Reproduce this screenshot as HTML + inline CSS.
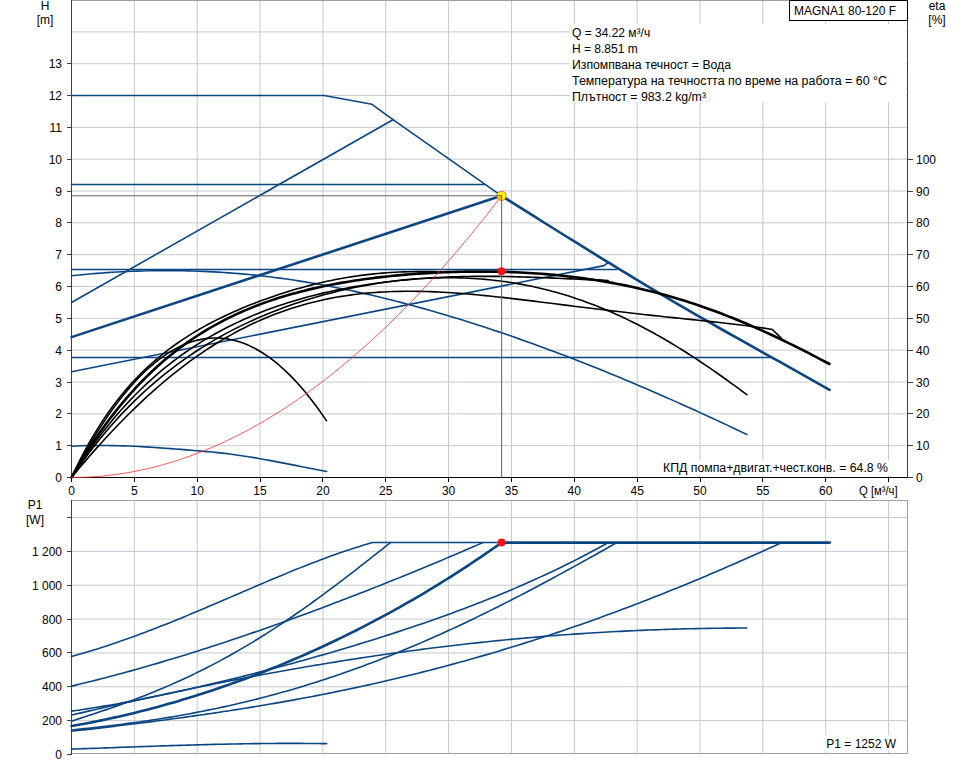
<!DOCTYPE html><html><head><meta charset="utf-8"><style>
html,body{margin:0;padding:0;background:#fff;width:968px;height:764px;overflow:hidden}
svg{display:block;font-family:"Liberation Sans",sans-serif;font-size:12px}
</style></head><body>
<svg width="968" height="764" viewBox="0 0 968 764">
<path d="M134.35,0 V477 M197.20,0 V477 M260.05,0 V477 M322.90,0 V477 M385.75,0 V477 M448.60,0 V477 M511.45,0 V477 M574.30,0 V477 M637.15,0 V477 M700.00,0 V477 M762.85,0 V477 M825.70,0 V477 M888.55,0 V477 M72,445.67 H907 M72,413.84 H907 M72,382.01 H907 M72,350.18 H907 M72,318.35 H907 M72,286.52 H907 M72,254.69 H907 M72,222.86 H907 M72,191.03 H907 M72,159.20 H907 M72,127.37 H907 M72,95.54 H907 M72,63.71 H907 M72,31.88 H907 M134.35,501 V754 M197.20,501 V754 M260.05,501 V754 M322.90,501 V754 M385.75,501 V754 M448.60,501 V754 M511.45,501 V754 M574.30,501 V754 M637.15,501 V754 M700.00,501 V754 M762.85,501 V754 M825.70,501 V754 M888.55,501 V754 M72,720.64 H907 M72,686.78 H907 M72,652.93 H907 M72,619.07 H907 M72,585.21 H907 M72,551.35 H907 M72,517.49 H907" stroke="#c6c9ce" stroke-width="1" fill="none"/>
<path d="M71.5,0 V482 M67,477.5 H907.5 M71.5,0.5 H907.5 M907.5,0 V477.5" stroke="#404040" stroke-width="1" fill="none" shape-rendering="crispEdges"/>
<path d="M71.5,0.5 H907.5" stroke="#a0a0a0" stroke-width="1" fill="none" shape-rendering="crispEdges"/>
<path d="M67,477.5 H912" stroke="#000" stroke-width="1.2" fill="none" shape-rendering="crispEdges"/>
<path d="M71.5,477 V482 M134.5,477 V482 M197.5,477 V482 M260.5,477 V482 M322.5,477 V482 M385.5,477 V482 M448.5,477 V482 M511.5,477 V482 M574.5,477 V482 M637.5,477 V482 M700.5,477 V482 M762.5,477 V482 M825.5,477 V482 M888.5,477 V482" stroke="#000" stroke-width="1" fill="none" shape-rendering="crispEdges"/>
<path d="M67,477.5 H71 M67,445.5 H71 M67,413.5 H71 M67,382.5 H71 M67,350.5 H71 M67,318.5 H71 M67,286.5 H71 M67,254.5 H71 M67,222.5 H71 M67,191.5 H71 M67,159.5 H71 M67,127.5 H71 M67,95.5 H71 M67,63.5 H71 M908,477.5 H913 M908,445.5 H913 M908,413.5 H913 M908,382.5 H913 M908,350.5 H913 M908,318.5 H913 M908,286.5 H913 M908,254.5 H913 M908,222.5 H913 M908,191.5 H913 M908,159.5 H913" stroke="#404040" stroke-width="1" fill="none" shape-rendering="crispEdges"/>
<path d="M71.5,500.5 H907.5 V753.5 H71.5 Z" stroke="#a0a0a0" stroke-width="1" fill="none" shape-rendering="crispEdges"/>
<path d="M71.5,500 V755" stroke="#404040" stroke-width="1" fill="none" shape-rendering="crispEdges"/>
<path d="M67,754.5 H71 M67,720.5 H71 M67,686.5 H71 M67,652.5 H71 M67,619.5 H71 M67,585.5 H71 M67,551.5 H71 M67,517.5 H71" stroke="#404040" stroke-width="1" fill="none" shape-rendering="crispEdges"/>
<g fill="#000"><text x="62" y="482.0" text-anchor="end" >0</text><text x="62" y="450.17" text-anchor="end" >1</text><text x="62" y="418.34000000000003" text-anchor="end" >2</text><text x="62" y="386.51" text-anchor="end" >3</text><text x="62" y="354.68" text-anchor="end" >4</text><text x="62" y="322.85" text-anchor="end" >5</text><text x="62" y="291.02" text-anchor="end" >6</text><text x="62" y="259.19" text-anchor="end" >7</text><text x="62" y="227.36" text-anchor="end" >8</text><text x="62" y="195.53000000000003" text-anchor="end" >9</text><text x="62" y="163.70000000000005" text-anchor="end" >10</text><text x="62" y="131.87" text-anchor="end" >11</text><text x="62" y="100.04000000000002" text-anchor="end" >12</text><text x="62" y="68.21000000000004" text-anchor="end" >13</text><text x="916" y="482.0" text-anchor="start" >0</text><text x="916" y="450.17" text-anchor="start" >10</text><text x="916" y="418.34000000000003" text-anchor="start" >20</text><text x="916" y="386.51" text-anchor="start" >30</text><text x="916" y="354.68" text-anchor="start" >40</text><text x="916" y="322.85" text-anchor="start" >50</text><text x="916" y="291.02" text-anchor="start" >60</text><text x="916" y="259.19" text-anchor="start" >70</text><text x="916" y="227.36000000000004" text-anchor="start" >80</text><text x="916" y="195.53000000000003" text-anchor="start" >90</text><text x="916" y="163.7" text-anchor="start" >100</text><text x="71.5" y="495" text-anchor="middle" >0</text><text x="134.35" y="495" text-anchor="middle" >5</text><text x="197.2" y="495" text-anchor="middle" >10</text><text x="260.05" y="495" text-anchor="middle" >15</text><text x="322.9" y="495" text-anchor="middle" >20</text><text x="385.75" y="495" text-anchor="middle" >25</text><text x="448.6" y="495" text-anchor="middle" >30</text><text x="511.45" y="495" text-anchor="middle" >35</text><text x="574.3" y="495" text-anchor="middle" >40</text><text x="637.15" y="495" text-anchor="middle" >45</text><text x="700.0" y="495" text-anchor="middle" >50</text><text x="762.85" y="495" text-anchor="middle" >55</text><text x="825.7" y="495" text-anchor="middle" >60</text><text x="62" y="759.0" text-anchor="end" >0</text><text x="62" y="725.142" text-anchor="end" >200</text><text x="62" y="691.284" text-anchor="end" >400</text><text x="62" y="657.426" text-anchor="end" >600</text><text x="62" y="623.568" text-anchor="end" >800</text><text x="62" y="589.71" text-anchor="end" >1 000</text><text x="62" y="555.852" text-anchor="end" >1 200</text><text x="45" y="10" text-anchor="middle" >H</text><text x="45" y="24" text-anchor="middle" >[m]</text><text x="937" y="10" text-anchor="middle" >eta</text><text x="937" y="24" text-anchor="middle" >[%]</text><text x="35" y="509" text-anchor="middle" >P1</text><text x="35" y="524" text-anchor="middle" >[W]</text></g>
<rect x="570" y="24" width="336" height="78" fill="#fff"/>
<rect x="789.5" y="0.5" width="118" height="20" fill="#fff" stroke="#000" stroke-width="1" shape-rendering="crispEdges"/>
<g fill="#000"><text x="794" y="15">MAGNA1 80-120 F</text><text x="572" y="37">Q = 34.22 м³/ч</text><text x="572" y="53">H = 8.851 m</text><text x="572" y="69" textLength="159" lengthAdjust="spacingAndGlyphs">Изпомпвана течност = Вода</text><text x="572" y="85" textLength="315" lengthAdjust="spacingAndGlyphs">Температура на течността по време на работа = 60 °C</text><text x="572" y="101" textLength="134" lengthAdjust="spacingAndGlyphs">Плътност = 983.2 kg/m³</text><rect x="660" y="460" width="230" height="15" fill="#fff"/><text x="663" y="472" textLength="225" lengthAdjust="spacingAndGlyphs">КПД помпа+двигат.+чест.конв. = 64.8 %</text><text x="859" y="495" textLength="38.6" lengthAdjust="spacingAndGlyphs">Q [м³/ч]</text><rect x="824" y="735" width="76" height="16" fill="#fff"/><text x="896" y="748" text-anchor="end">P1 = 1252 W</text></g>
<path d="M71.50,95.54 L324.16,95.54 L371.90,104.30 L393.00,119.70 L501.50,195.80" stroke="#0b4683" stroke-width="1.6" fill="none" stroke-linejoin="round" stroke-linecap="round"/><path d="M501.50,195.80 L509.91,201.10 L518.32,206.39 L526.73,211.68 L535.14,216.96 L543.55,222.23 L551.96,227.49 L560.37,232.75 L568.78,237.99 L577.19,243.21 L585.60,248.42 L594.01,253.61 L602.42,258.79 L610.83,263.94 L619.24,269.08 L627.65,274.19 L636.06,279.28 L644.47,284.34 L652.88,289.37 L661.29,294.38 L669.71,299.35 L678.12,304.29 L686.53,309.20 L694.94,314.08 L703.35,318.92 L711.76,323.73 L720.17,328.50 L728.58,333.25 L736.99,337.98 L745.40,342.69 L753.81,347.39 L762.22,352.08 L770.63,356.77 L779.04,361.46 L787.45,366.16 L795.86,370.87 L804.27,375.59 L812.68,380.34 L821.09,385.10 L829.50,389.90" stroke="#0b4683" stroke-width="2.6" fill="none" stroke-linejoin="round" stroke-linecap="round"/><path d="M71.5,184.5 H484.5" stroke="#0b4683" stroke-width="1.6" fill="none" stroke-linejoin="round" stroke-linecap="round"/><path d="M71.5,269.5 H616.6" stroke="#0b4683" stroke-width="1.6" fill="none" stroke-linejoin="round" stroke-linecap="round"/><path d="M71.5,357.5 H770" stroke="#0b4683" stroke-width="1.6" fill="none" stroke-linejoin="round" stroke-linecap="round"/><path d="M71.50,302.44 L393.00,119.70" stroke="#0b4683" stroke-width="1.6" fill="none" stroke-linejoin="round" stroke-linecap="round"/><path d="M71.50,337.13 L501.50,195.80" stroke="#0b4683" stroke-width="2.6" fill="none" stroke-linejoin="round" stroke-linecap="round"/><path d="M71.50,371.82 L604.00,265.60 L607.50,263.00" stroke="#0b4683" stroke-width="1.6" fill="none" stroke-linejoin="round" stroke-linecap="round"/><path d="M71.50,275.70 L76.58,275.18 L81.66,274.68 L86.73,274.22 L91.81,273.78 L96.89,273.37 L101.97,272.99 L107.05,272.63 L112.12,272.31 L117.20,272.01 L122.28,271.74 L127.36,271.50 L132.44,271.28 L137.52,271.10 L142.59,270.94 L147.67,270.82 L152.75,270.72 L157.83,270.65 L162.91,270.61 L167.98,270.60 L173.06,270.63 L178.14,270.68 L183.22,270.76 L188.30,270.87 L193.37,271.01 L198.45,271.18 L203.53,271.38 L208.61,271.61 L213.69,271.87 L218.76,272.16 L223.84,272.49 L228.92,272.84 L234.00,273.23 L239.08,273.64 L244.16,274.09 L249.23,274.57 L254.31,275.08 L259.39,275.62 L264.47,276.20 L269.55,276.81 L274.62,277.44 L279.70,278.11 L284.78,278.81 L289.86,279.54 L294.94,280.30 L300.01,281.09 L305.09,281.91 L310.17,282.76 L315.25,283.63 L320.33,284.54 L325.40,285.47 L330.48,286.43 L335.56,287.42 L340.64,288.44 L345.72,289.48 L350.80,290.55 L355.87,291.64 L360.95,292.76 L366.03,293.91 L371.11,295.08 L376.19,296.28 L381.26,297.50 L386.34,298.74 L391.42,300.01 L396.50,301.31 L401.58,302.62 L406.65,303.96 L411.73,305.32 L416.81,306.71 L421.89,308.11 L426.97,309.54 L432.04,310.99 L437.12,312.46 L442.20,313.95 L447.28,315.46 L452.36,316.99 L457.43,318.54 L462.51,320.11 L467.59,321.70 L472.67,323.31 L477.75,324.94 L482.83,326.58 L487.90,328.25 L492.98,329.93 L498.06,331.63 L503.14,333.35 L508.22,335.09 L513.29,336.85 L518.37,338.62 L523.45,340.41 L528.53,342.22 L533.61,344.04 L538.68,345.89 L543.76,347.75 L548.84,349.63 L553.92,351.52 L559.00,353.43 L564.07,355.36 L569.15,357.30 L574.23,359.26 L579.31,361.24 L584.39,363.23 L589.47,365.23 L594.54,367.26 L599.62,369.30 L604.70,371.35 L609.78,373.42 L614.86,375.50 L619.93,377.60 L625.01,379.72 L630.09,381.85 L635.17,383.99 L640.25,386.15 L645.32,388.32 L650.40,390.51 L655.48,392.71 L660.56,394.92 L665.64,397.15 L670.71,399.39 L675.79,401.64 L680.87,403.91 L685.95,406.19 L691.03,408.48 L696.11,410.79 L701.18,413.11 L706.26,415.44 L711.34,417.79 L716.42,420.14 L721.50,422.51 L726.57,424.89 L731.65,427.28 L736.73,429.69 L741.81,432.10 L746.89,434.53" stroke="#0b4683" stroke-width="1.6" fill="none" stroke-linejoin="round" stroke-linecap="round"/><path d="M71.50,446.31 L76.71,446.03 L81.92,445.82 L87.12,445.66 L92.33,445.55 L97.54,445.50 L102.75,445.49 L107.95,445.52 L113.16,445.60 L118.37,445.72 L123.58,445.87 L128.78,446.06 L133.99,446.29 L139.20,446.55 L144.41,446.83 L149.61,447.14 L154.82,447.47 L160.03,447.83 L165.24,448.20 L170.44,448.59 L175.65,449.00 L180.86,449.41 L186.07,449.84 L191.27,450.27 L196.48,450.70 L201.69,451.14 L206.90,451.59 L212.10,452.07 L217.31,452.59 L222.52,453.15 L227.73,453.78 L232.93,454.46 L238.14,455.19 L243.35,455.96 L248.56,456.78 L253.77,457.64 L258.97,458.53 L264.18,459.45 L269.39,460.40 L274.60,461.38 L279.80,462.37 L285.01,463.37 L290.22,464.39 L295.43,465.41 L300.63,466.44 L305.84,467.46 L311.05,468.48 L316.26,469.48 L321.46,470.48 L326.67,471.45" stroke="#0b4683" stroke-width="1.6" fill="none" stroke-linejoin="round" stroke-linecap="round"/><path d="M71.50,477.50 L75.76,468.51 L80.02,459.94 L84.28,451.78 L88.54,444.00 L92.79,436.60 L97.05,429.55 L101.31,422.82 L105.57,416.42 L109.83,410.32 L114.09,404.50 L118.35,398.95 L122.61,393.66 L126.87,388.61 L131.12,383.79 L135.38,379.19 L139.64,374.79 L143.90,370.58 L148.16,366.56 L152.42,362.72 L156.68,359.03 L160.94,355.50 L165.20,352.11 L169.45,348.86 L173.71,345.74 L177.97,342.73 L182.23,339.85 L186.49,337.06 L190.75,334.38 L195.01,331.80 L199.27,329.30 L203.52,326.89 L207.78,324.56 L212.04,322.31 L216.30,320.12 L220.56,318.01 L224.82,315.95 L229.08,313.96 L233.34,312.03 L237.60,310.15 L241.85,308.33 L246.11,306.56 L250.37,304.84 L254.63,303.16 L258.89,301.53 L263.15,299.95 L267.41,298.41 L271.67,296.92 L275.93,295.47 L280.18,294.06 L284.44,292.70 L288.70,291.37 L292.96,290.09 L297.22,288.85 L301.48,287.65 L305.74,286.49 L310.00,285.38 L314.26,284.30 L318.51,283.27 L322.77,282.28 L327.03,281.34 L331.29,280.44 L335.55,279.58 L339.81,278.77 L344.07,278.00 L348.33,277.28 L352.59,276.60 L356.84,275.97 L361.10,275.38 L365.36,274.84 L369.62,274.34 L373.88,273.89 L378.14,273.48 L382.40,273.11 L386.66,272.79 L390.91,272.50 L395.17,272.26 L399.43,272.06 L403.69,271.90 L407.95,271.77 L412.21,271.68 L416.47,271.62 L420.73,271.58 L424.99,271.58 L429.24,271.60 L433.50,271.64 L437.76,271.70 L442.02,271.77 L446.28,271.85 L450.54,271.94 L454.80,272.02 L459.06,272.10 L463.32,272.17 L467.57,272.22 L471.83,272.25 L476.09,272.25 L480.35,272.21 L484.61,272.12 L488.87,271.99 L493.13,271.79 L497.39,271.51 L501.65,271.16" stroke="#000" stroke-width="1.6" fill="none" stroke-linejoin="round" stroke-linecap="round"/><path d="M71.50,477.50 L75.73,470.16 L79.97,463.04 L84.20,456.14 L88.44,449.46 L92.67,442.99 L96.91,436.72 L101.14,430.66 L105.38,424.78 L109.61,419.09 L113.84,413.59 L118.08,408.26 L122.31,403.11 L126.55,398.13 L130.78,393.31 L135.02,388.65 L139.25,384.14 L143.49,379.78 L147.72,375.57 L151.96,371.50 L156.19,367.57 L160.42,363.77 L164.66,360.10 L168.89,356.56 L173.13,353.14 L177.36,349.84 L181.60,346.65 L185.83,343.57 L190.07,340.60 L194.30,337.73 L198.53,334.97 L202.77,332.30 L207.00,329.73 L211.24,327.25 L215.47,324.86 L219.71,322.55 L223.94,320.33 L228.18,318.19 L232.41,316.12 L236.64,314.13 L240.88,312.22 L245.11,310.37 L249.35,308.59 L253.58,306.87 L257.82,305.22 L262.05,303.63 L266.29,302.10 L270.52,300.63 L274.75,299.21 L278.99,297.85 L283.22,296.53 L287.46,295.27 L291.69,294.05 L295.93,292.88 L300.16,291.75 L304.40,290.67 L308.63,289.63 L312.87,288.63 L317.10,287.67 L321.33,286.74 L325.57,285.85 L329.80,285.00 L334.04,284.18 L338.27,283.40 L342.51,282.64 L346.74,281.92 L350.98,281.23 L355.21,280.56 L359.44,279.93 L363.68,279.32 L367.91,278.74 L372.15,278.18 L376.38,277.66 L380.62,277.15 L384.85,276.67 L389.09,276.21 L393.32,275.78 L397.55,275.37 L401.79,274.98 L406.02,274.61 L410.26,274.27 L414.49,273.94 L418.73,273.64 L422.96,273.36 L427.20,273.10 L431.43,272.86 L435.66,272.64 L439.90,272.44 L444.13,272.26 L448.37,272.10 L452.60,271.96 L456.84,271.84 L461.07,271.74 L465.31,271.66 L469.54,271.60 L473.78,271.56 L478.01,271.54 L482.24,271.54 L486.48,271.56 L490.71,271.60 L494.95,271.67 L499.18,271.75 L503.42,271.86 L507.65,271.99 L511.89,272.14 L516.12,272.31 L520.35,272.50 L524.59,272.72 L528.82,272.96 L533.06,273.22 L537.29,273.51 L541.53,273.82 L545.76,274.16 L550.00,274.52 L554.23,274.90 L558.46,275.31 L562.70,275.75 L566.93,276.21 L571.17,276.70 L575.40,277.22 L579.64,277.76 L583.87,278.33 L588.11,278.93 L592.34,279.56 L596.57,280.21 L600.81,280.90 L605.04,281.61 L609.28,282.35 L613.51,283.13 L617.75,283.93 L621.98,284.76 L626.22,285.63 L630.45,286.52 L634.69,287.45 L638.92,288.41 L643.15,289.40 L647.39,290.42 L651.62,291.47 L655.86,292.56 L660.09,293.68 L664.33,294.83 L668.56,296.02 L672.80,297.24 L677.03,298.49 L681.26,299.77 L685.50,301.09 L689.73,302.44 L693.97,303.82 L698.20,305.24 L702.44,306.69 L706.67,308.18 L710.91,309.69 L715.14,311.24 L719.37,312.83 L723.61,314.44 L727.84,316.09 L732.08,317.77 L736.31,319.48 L740.55,321.22 L744.78,322.99 L749.02,324.80 L753.25,326.63 L757.48,328.49 L761.72,330.38 L765.95,332.31 L770.19,334.25 L774.42,336.23 L778.66,338.23 L782.89,340.26 L787.13,342.31 L791.36,344.39 L795.60,346.49 L799.83,348.61 L804.06,350.76 L808.30,352.92 L812.53,355.11 L816.77,357.31 L821.00,359.53 L825.24,361.76 L829.47,364.01" stroke="#000" stroke-width="2.6" fill="none" stroke-linejoin="round" stroke-linecap="round"/><path d="M71.50,477.50 L75.73,470.76 L79.95,464.22 L84.18,457.88 L88.41,451.73 L92.63,445.76 L96.86,439.97 L101.08,434.37 L105.31,428.93 L109.54,423.65 L113.76,418.54 L117.99,413.59 L122.22,408.78 L126.44,404.13 L130.67,399.61 L134.89,395.24 L139.12,391.00 L143.35,386.90 L147.57,382.92 L151.80,379.06 L156.03,375.32 L160.25,371.70 L164.48,368.19 L168.70,364.80 L172.93,361.50 L177.16,358.31 L181.38,355.22 L185.61,352.23 L189.84,349.33 L194.06,346.52 L198.29,343.81 L202.52,341.17 L206.74,338.62 L210.97,336.15 L215.19,333.76 L219.42,331.44 L223.65,329.20 L227.87,327.03 L232.10,324.92 L236.33,322.89 L240.55,320.92 L244.78,319.01 L249.00,317.16 L253.23,315.37 L257.46,313.64 L261.68,311.97 L265.91,310.35 L270.14,308.79 L274.36,307.27 L278.59,305.81 L282.81,304.39 L287.04,303.02 L291.27,301.70 L295.49,300.42 L299.72,299.19 L303.95,298.00 L308.17,296.85 L312.40,295.74 L316.62,294.66 L320.85,293.63 L325.08,292.64 L329.30,291.68 L333.53,290.76 L337.76,289.87 L341.98,289.02 L346.21,288.20 L350.44,287.41 L354.66,286.65 L358.89,285.93 L363.11,285.24 L367.34,284.58 L371.57,283.94 L375.79,283.34 L380.02,282.76 L384.25,282.22 L388.47,281.70 L392.70,281.20 L396.92,280.74 L401.15,280.30 L405.38,279.88 L409.60,279.49 L413.83,279.13 L418.06,278.79 L422.28,278.47 L426.51,278.18 L430.73,277.91 L434.96,277.66 L439.19,277.44 L443.41,277.24 L447.64,277.06 L451.87,276.90 L456.09,276.76 L460.32,276.64 L464.55,276.54 L468.77,276.46 L473.00,276.40 L477.22,276.36 L481.45,276.33 L485.68,276.33 L489.90,276.34 L494.13,276.36 L498.36,276.41 L502.58,276.46 L506.81,276.54 L511.03,276.62 L515.26,276.72 L519.49,276.83 L523.71,276.96 L527.94,277.09 L532.17,277.24 L536.39,277.39 L540.62,277.56 L544.84,277.73 L549.07,277.91 L553.30,278.09 L557.52,278.28 L561.75,278.47 L565.98,278.67 L570.20,278.86 L574.43,279.06 L578.65,279.26 L582.88,279.45 L587.11,279.64 L591.33,279.83 L595.56,280.00 L599.79,280.17 L604.01,280.34 L608.24,280.49" stroke="#000" stroke-width="1.6" fill="none" stroke-linejoin="round" stroke-linecap="round"/><path d="M71.50,477.50 L75.72,471.31 L79.94,465.30 L84.16,459.44 L88.38,453.76 L92.61,448.22 L96.83,442.84 L101.05,437.61 L105.27,432.53 L109.49,427.58 L113.71,422.77 L117.93,418.10 L122.15,413.55 L126.38,409.13 L130.60,404.83 L134.82,400.64 L139.04,396.58 L143.26,392.62 L147.48,388.77 L151.70,385.03 L155.92,381.39 L160.14,377.85 L164.37,374.41 L168.59,371.06 L172.81,367.80 L177.03,364.62 L181.25,361.54 L185.47,358.54 L189.69,355.62 L193.91,352.78 L198.13,350.01 L202.36,347.32 L206.58,344.70 L210.80,342.16 L215.02,339.68 L219.24,337.27 L223.46,334.92 L227.68,332.64 L231.90,330.41 L236.13,328.25 L240.35,326.15 L244.57,324.10 L248.79,322.11 L253.01,320.17 L257.23,318.29 L261.45,316.46 L265.67,314.68 L269.89,312.95 L274.12,311.26 L278.34,309.63 L282.56,308.04 L286.78,306.50 L291.00,305.00 L295.22,303.55 L299.44,302.14 L303.66,300.77 L307.89,299.45 L312.11,298.17 L316.33,296.93 L320.55,295.73 L324.77,294.57 L328.99,293.45 L333.21,292.36 L337.43,291.32 L341.65,290.32 L345.88,289.36 L350.10,288.43 L354.32,287.54 L358.54,286.70 L362.76,285.88 L366.98,285.11 L371.20,284.38 L375.42,283.68 L379.64,283.02 L383.87,282.40 L388.09,281.82 L392.31,281.27 L396.53,280.76 L400.75,280.30 L404.97,279.87 L409.19,279.48 L413.41,279.12 L417.64,278.81 L421.86,278.54 L426.08,278.30 L430.30,278.11 L434.52,277.96 L438.74,277.84 L442.96,277.77 L447.18,277.74 L451.40,277.75 L455.63,277.80 L459.85,277.90 L464.07,278.04 L468.29,278.22 L472.51,278.44 L476.73,278.71 L480.95,279.02 L485.17,279.38 L489.40,279.78 L493.62,280.22 L497.84,280.71 L502.06,281.25 L506.28,281.83 L510.50,282.46 L514.72,283.14 L518.94,283.87 L523.16,284.64 L527.39,285.46 L531.61,286.33 L535.83,287.24 L540.05,288.21 L544.27,289.23 L548.49,290.29 L552.71,291.40 L556.93,292.57 L561.15,293.78 L565.38,295.05 L569.60,296.36 L573.82,297.73 L578.04,299.14 L582.26,300.61 L586.48,302.13 L590.70,303.70 L594.92,305.32 L599.15,306.99 L603.37,308.71 L607.59,310.48 L611.81,312.31 L616.03,314.18 L620.25,316.10 L624.47,318.08 L628.69,320.10 L632.91,322.18 L637.14,324.30 L641.36,326.47 L645.58,328.69 L649.80,330.96 L654.02,333.28 L658.24,335.64 L662.46,338.05 L666.68,340.51 L670.91,343.01 L675.13,345.56 L679.35,348.15 L683.57,350.78 L687.79,353.46 L692.01,356.17 L696.23,358.93 L700.45,361.72 L704.67,364.56 L708.90,367.43 L713.12,370.33 L717.34,373.27 L721.56,376.25 L725.78,379.25 L730.00,382.29 L734.22,385.36 L738.44,388.45 L742.66,391.57 L746.89,394.71" stroke="#000" stroke-width="1.6" fill="none" stroke-linejoin="round" stroke-linecap="round"/><path d="M71.50,477.50 L75.72,472.40 L79.94,467.36 L84.16,462.39 L88.39,457.48 L92.61,452.64 L96.83,447.87 L101.05,443.17 L105.27,438.53 L109.49,433.97 L113.72,429.48 L117.94,425.06 L122.16,420.72 L126.38,416.45 L130.60,412.25 L134.82,408.13 L139.04,404.08 L143.27,400.11 L147.49,396.21 L151.71,392.39 L155.93,388.65 L160.15,384.98 L164.37,381.39 L168.60,377.87 L172.82,374.44 L177.04,371.08 L181.26,367.80 L185.48,364.59 L189.70,361.46 L193.92,358.41 L198.15,355.43 L202.37,352.54 L206.59,349.71 L210.81,346.97 L215.03,344.29 L219.25,341.70 L223.48,339.18 L227.70,336.73 L231.92,334.36 L236.14,332.06 L240.36,329.83 L244.58,327.67 L248.81,325.59 L253.03,323.58 L257.25,321.63 L261.47,319.76 L265.69,317.96 L269.91,316.22 L274.13,314.56 L278.36,312.96 L282.58,311.42 L286.80,309.95 L291.02,308.55 L295.24,307.20 L299.46,305.92 L303.69,304.71 L307.91,303.55 L312.13,302.45 L316.35,301.41 L320.57,300.43 L324.79,299.51 L329.01,298.64 L333.24,297.82 L337.46,297.06 L341.68,296.35 L345.90,295.70 L350.12,295.09 L354.34,294.53 L358.57,294.03 L362.79,293.56 L367.01,293.15 L371.23,292.78 L375.45,292.45 L379.67,292.17 L383.89,291.93 L388.12,291.72 L392.34,291.56 L396.56,291.44 L400.78,291.35 L405.00,291.30 L409.22,291.28 L413.45,291.30 L417.67,291.34 L421.89,291.42 L426.11,291.53 L430.33,291.67 L434.55,291.84 L438.77,292.03 L443.00,292.25 L447.22,292.49 L451.44,292.76 L455.66,293.05 L459.88,293.36 L464.10,293.69 L468.33,294.04 L472.55,294.41 L476.77,294.79 L480.99,295.19 L485.21,295.60 L489.43,296.03 L493.66,296.47 L497.88,296.93 L502.10,297.39 L506.32,297.87 L510.54,298.35 L514.76,298.85 L518.98,299.35 L523.21,299.85 L527.43,300.37 L531.65,300.88 L535.87,301.41 L540.09,301.93 L544.31,302.46 L548.54,302.99 L552.76,303.52 L556.98,304.06 L561.20,304.59 L565.42,305.12 L569.64,305.65 L573.86,306.19 L578.09,306.71 L582.31,307.24 L586.53,307.77 L590.75,308.29 L594.97,308.81 L599.19,309.32 L603.42,309.83 L607.64,310.34 L611.86,310.84 L616.08,311.33 L620.30,311.83 L624.52,312.31 L628.74,312.80 L632.97,313.28 L637.19,313.75 L641.41,314.22 L645.63,314.68 L649.85,315.14 L654.07,315.60 L658.30,316.05 L662.52,316.50 L666.74,316.95 L670.96,317.40 L675.18,317.84 L679.40,318.28 L683.62,318.72 L687.85,319.16 L692.07,319.60 L696.29,320.04 L700.51,320.49 L704.73,320.94 L708.95,321.39 L713.18,321.84 L717.40,322.30 L721.62,322.77 L725.84,323.25 L730.06,323.74 L734.28,324.24 L738.51,324.74 L742.73,325.27 L746.95,325.81 L751.17,326.36 L755.39,326.93 L759.61,327.53 L763.83,328.14 L768.06,328.78 L772.28,329.44" stroke="#000" stroke-width="1.6" fill="none" stroke-linejoin="round" stroke-linecap="round"/><path d="M71.50,477.50 L75.82,469.26 L80.14,461.26 L84.46,453.52 L88.78,446.03 L93.10,438.79 L97.42,431.80 L101.74,425.06 L106.07,418.58 L110.39,412.34 L114.71,406.36 L119.03,400.62 L123.35,395.14 L127.67,389.91 L131.99,384.93 L136.31,380.20 L140.63,375.72 L144.95,371.49 L149.27,367.52 L153.59,363.79 L157.91,360.32 L162.23,357.09 L166.55,354.12 L170.88,351.40 L175.20,348.93 L179.52,346.71 L183.84,344.75 L188.16,343.03 L192.48,341.56 L196.80,340.35 L201.12,339.39 L205.44,338.67 L209.76,338.21 L214.08,338.00 L218.40,338.04 L222.72,338.33 L227.04,338.88 L231.36,339.67 L235.69,340.72 L240.01,342.01 L244.33,343.56 L248.65,345.36 L252.97,347.41 L257.29,349.71 L261.61,352.26 L265.93,355.06 L270.25,358.12 L274.57,361.42 L278.89,364.98 L283.21,368.78 L287.53,372.84 L291.85,377.15 L296.17,381.71 L300.50,386.52 L304.82,391.58 L309.14,396.90 L313.46,402.46 L317.78,408.28 L322.10,414.34 L326.42,420.66" stroke="#000" stroke-width="1.6" fill="none" stroke-linejoin="round" stroke-linecap="round"/><path d="M772.28,329.49 L781.60,338.30" stroke="#000" stroke-width="1.6" fill="none" stroke-linejoin="round" stroke-linecap="round"/><circle cx="501.5" cy="195.8" r="4.6" fill="#ffff00" stroke="#ff4040" stroke-width="0.8"/><circle cx="501.5" cy="271.2" r="4" fill="#ff1010"/><path d="M71.50,477.50 L86.33,477.17 L101.17,476.16 L116.00,474.49 L130.83,472.14 L145.66,469.13 L160.50,465.44 L175.33,461.09 L190.16,456.06 L204.99,450.37 L219.83,444.00 L234.66,436.97 L249.49,429.26 L264.32,420.89 L279.16,411.84 L293.99,402.13 L308.82,391.74 L323.65,380.69 L338.49,368.96 L353.32,356.57 L368.15,343.50 L382.98,329.77 L397.82,315.36 L412.65,300.29 L427.48,284.55 L442.31,268.13 L457.15,251.05 L471.98,233.29 L486.81,214.87 L501.65,195.77" stroke="#ff3030" stroke-width="0.8" fill="none" stroke-linejoin="round" stroke-linecap="round"/><path d="M71.5,195.77 H501.65 V477.5" stroke="#606060" stroke-width="1.0" fill="none" stroke-linejoin="round" stroke-linecap="butt"/>
<path d="M71.50,656.48 L75.80,655.30 L80.10,654.09 L84.40,652.84 L88.70,651.57 L92.99,650.26 L97.29,648.92 L101.59,647.56 L105.89,646.17 L110.19,644.75 L114.49,643.30 L118.79,641.83 L123.09,640.33 L127.39,638.81 L131.69,637.26 L135.98,635.70 L140.28,634.11 L144.58,632.49 L148.88,630.86 L153.18,629.21 L157.48,627.54 L161.78,625.85 L166.08,624.14 L170.38,622.42 L174.67,620.68 L178.97,618.93 L183.27,617.16 L187.57,615.38 L191.87,613.59 L196.17,611.79 L200.47,609.98 L204.77,608.16 L209.07,606.34 L213.37,604.50 L217.66,602.66 L221.96,600.82 L226.26,598.97 L230.56,597.12 L234.86,595.27 L239.16,593.42 L243.46,591.57 L247.76,589.73 L252.06,587.88 L256.35,586.04 L260.65,584.20 L264.95,582.38 L269.25,580.56 L273.55,578.74 L277.85,576.94 L282.15,575.15 L286.45,573.38 L290.75,571.61 L295.04,569.86 L299.34,568.13 L303.64,566.42 L307.94,564.73 L312.24,563.05 L316.54,561.40 L320.84,559.77 L325.14,558.17 L329.44,556.59 L333.74,555.04 L338.03,553.52 L342.33,552.02 L346.63,550.56 L350.93,549.14 L355.23,547.74 L359.53,546.39 L363.83,545.07 L368.13,543.79 L372.43,542.55" stroke="#0b4683" stroke-width="1.6" fill="none" stroke-linejoin="round" stroke-linecap="round"/><path d="M71.50,721.15 L75.75,719.77 L80.01,718.38 L84.26,716.99 L88.51,715.59 L92.77,714.18 L97.02,712.76 L101.28,711.32 L105.53,709.87 L109.78,708.40 L114.04,706.91 L118.29,705.41 L122.54,703.88 L126.80,702.33 L131.05,700.76 L135.31,699.16 L139.56,697.54 L143.81,695.89 L148.07,694.21 L152.32,692.51 L156.57,690.77 L160.83,689.00 L165.08,687.20 L169.33,685.37 L173.59,683.50 L177.84,681.60 L182.10,679.67 L186.35,677.70 L190.60,675.69 L194.86,673.65 L199.11,671.57 L203.36,669.45 L207.62,667.30 L211.87,665.10 L216.13,662.87 L220.38,660.60 L224.63,658.30 L228.89,655.95 L233.14,653.56 L237.39,651.14 L241.65,648.68 L245.90,646.18 L250.15,643.64 L254.41,641.06 L258.66,638.45 L262.92,635.79 L267.17,633.10 L271.42,630.38 L275.68,627.62 L279.93,624.82 L284.18,621.98 L288.44,619.12 L292.69,616.22 L296.95,613.28 L301.20,610.32 L305.45,607.32 L309.71,604.29 L313.96,601.23 L318.21,598.15 L322.47,595.03 L326.72,591.89 L330.97,588.73 L335.23,585.54 L339.48,582.33 L343.74,579.09 L347.99,575.84 L352.24,572.57 L356.50,569.28 L360.75,565.98 L365.00,562.66 L369.26,559.33 L373.51,555.99 L377.77,552.63 L382.02,549.28 L386.27,545.91 L390.53,542.55" stroke="#0b4683" stroke-width="1.6" fill="none" stroke-linejoin="round" stroke-linecap="round"/><path d="M71.50,686.10 L75.74,685.10 L79.99,684.08 L84.23,683.05 L88.47,682.00 L92.71,680.94 L96.96,679.87 L101.20,678.79 L105.44,677.69 L109.68,676.58 L113.93,675.46 L118.17,674.33 L122.41,673.19 L126.66,672.03 L130.90,670.86 L135.14,669.68 L139.38,668.49 L143.63,667.28 L147.87,666.07 L152.11,664.84 L156.35,663.61 L160.60,662.36 L164.84,661.10 L169.08,659.83 L173.32,658.55 L177.57,657.26 L181.81,655.96 L186.05,654.65 L190.30,653.33 L194.54,652.00 L198.78,650.66 L203.02,649.31 L207.27,647.95 L211.51,646.58 L215.75,645.20 L219.99,643.81 L224.24,642.41 L228.48,641.00 L232.72,639.59 L236.97,638.16 L241.21,636.73 L245.45,635.28 L249.69,633.83 L253.94,632.37 L258.18,630.90 L262.42,629.43 L266.66,627.94 L270.91,626.45 L275.15,624.95 L279.39,623.44 L283.63,621.92 L287.88,620.39 L292.12,618.86 L296.36,617.32 L300.61,615.77 L304.85,614.21 L309.09,612.64 L313.33,611.07 L317.58,609.49 L321.82,607.90 L326.06,606.31 L330.30,604.71 L334.55,603.10 L338.79,601.48 L343.03,599.86 L347.28,598.23 L351.52,596.59 L355.76,594.94 L360.00,593.29 L364.25,591.63 L368.49,589.97 L372.73,588.29 L376.97,586.62 L381.22,584.93 L385.46,583.24 L389.70,581.54 L393.95,579.83 L398.19,578.12 L402.43,576.40 L406.67,574.68 L410.92,572.95 L415.16,571.21 L419.40,569.46 L423.64,567.71 L427.89,565.96 L432.13,564.19 L436.37,562.42 L440.61,560.65 L444.86,558.87 L449.10,557.08 L453.34,555.28 L457.59,553.48 L461.83,551.68 L466.07,549.86 L470.31,548.04 L474.56,546.22 L478.80,544.39 L483.04,542.55" stroke="#0b4683" stroke-width="1.6" fill="none" stroke-linejoin="round" stroke-linecap="round"/><path d="M71.50,726.07 L75.76,725.32 L80.02,724.55 L84.28,723.76 L88.54,722.95 L92.79,722.11 L97.05,721.26 L101.31,720.39 L105.57,719.49 L109.83,718.58 L114.09,717.64 L118.35,716.68 L122.61,715.71 L126.87,714.71 L131.12,713.69 L135.38,712.65 L139.64,711.59 L143.90,710.51 L148.16,709.41 L152.42,708.29 L156.68,707.15 L160.94,705.99 L165.20,704.80 L169.45,703.60 L173.71,702.38 L177.97,701.13 L182.23,699.87 L186.49,698.59 L190.75,697.28 L195.01,695.96 L199.27,694.61 L203.52,693.24 L207.78,691.86 L212.04,690.45 L216.30,689.02 L220.56,687.57 L224.82,686.10 L229.08,684.61 L233.34,683.10 L237.60,681.57 L241.85,680.02 L246.11,678.45 L250.37,676.85 L254.63,675.24 L258.89,673.60 L263.15,671.94 L267.41,670.27 L271.67,668.57 L275.93,666.85 L280.18,665.10 L284.44,663.34 L288.70,661.56 L292.96,659.75 L297.22,657.92 L301.48,656.07 L305.74,654.20 L310.00,652.31 L314.26,650.39 L318.51,648.46 L322.77,646.50 L327.03,644.51 L331.29,642.51 L335.55,640.48 L339.81,638.44 L344.07,636.36 L348.33,634.27 L352.59,632.15 L356.84,630.01 L361.10,627.85 L365.36,625.66 L369.62,623.45 L373.88,621.22 L378.14,618.96 L382.40,616.68 L386.66,614.38 L390.91,612.05 L395.17,609.70 L399.43,607.32 L403.69,604.92 L407.95,602.49 L412.21,600.04 L416.47,597.56 L420.73,595.06 L424.99,592.54 L429.24,589.98 L433.50,587.41 L437.76,584.80 L442.02,582.17 L446.28,579.52 L450.54,576.84 L454.80,574.13 L459.06,571.40 L463.32,568.64 L467.57,565.85 L471.83,563.03 L476.09,560.19 L480.35,557.32 L484.61,554.42 L488.87,551.49 L493.13,548.54 L497.39,545.56 L501.65,542.55" stroke="#0b4683" stroke-width="2.6" fill="none" stroke-linejoin="round" stroke-linecap="round"/><path d="M71.50,711.16 L75.73,710.56 L79.95,709.94 L84.18,709.31 L88.41,708.66 L92.63,707.99 L96.86,707.31 L101.08,706.61 L105.31,705.90 L109.54,705.17 L113.76,704.43 L117.99,703.68 L122.22,702.91 L126.44,702.13 L130.67,701.34 L134.89,700.53 L139.12,699.71 L143.35,698.88 L147.57,698.04 L151.80,697.19 L156.03,696.32 L160.25,695.44 L164.48,694.56 L168.70,693.66 L172.93,692.75 L177.16,691.83 L181.38,690.90 L185.61,689.96 L189.84,689.02 L194.06,688.06 L198.29,687.09 L202.52,686.12 L206.74,685.13 L210.97,684.13 L215.19,683.13 L219.42,682.12 L223.65,681.10 L227.87,680.07 L232.10,679.03 L236.33,677.99 L240.55,676.93 L244.78,675.87 L249.00,674.80 L253.23,673.72 L257.46,672.63 L261.68,671.54 L265.91,670.44 L270.14,669.33 L274.36,668.21 L278.59,667.08 L282.81,665.95 L287.04,664.80 L291.27,663.65 L295.49,662.50 L299.72,661.33 L303.95,660.16 L308.17,658.98 L312.40,657.79 L316.62,656.59 L320.85,655.38 L325.08,654.17 L329.30,652.94 L333.53,651.71 L337.76,650.47 L341.98,649.22 L346.21,647.97 L350.44,646.70 L354.66,645.42 L358.89,644.14 L363.11,642.84 L367.34,641.54 L371.57,640.23 L375.79,638.90 L380.02,637.57 L384.25,636.23 L388.47,634.87 L392.70,633.51 L396.92,632.13 L401.15,630.75 L405.38,629.35 L409.60,627.94 L413.83,626.52 L418.06,625.08 L422.28,623.64 L426.51,622.18 L430.73,620.71 L434.96,619.23 L439.19,617.73 L443.41,616.22 L447.64,614.69 L451.87,613.16 L456.09,611.60 L460.32,610.03 L464.55,608.45 L468.77,606.85 L473.00,605.23 L477.22,603.60 L481.45,601.95 L485.68,600.29 L489.90,598.60 L494.13,596.90 L498.36,595.18 L502.58,593.45 L506.81,591.69 L511.03,589.91 L515.26,588.12 L519.49,586.30 L523.71,584.46 L527.94,582.60 L532.17,580.72 L536.39,578.82 L540.62,576.89 L544.84,574.94 L549.07,572.97 L553.30,570.97 L557.52,568.95 L561.75,566.91 L565.98,564.83 L570.20,562.74 L574.43,560.61 L578.65,558.46 L582.88,556.28 L587.11,554.07 L591.33,551.83 L595.56,549.56 L599.79,547.26 L604.01,544.93 L608.24,542.57" stroke="#0b4683" stroke-width="1.6" fill="none" stroke-linejoin="round" stroke-linecap="round"/><path d="M71.50,729.96 L75.73,729.53 L79.96,729.10 L84.19,728.66 L88.42,728.21 L92.64,727.75 L96.87,727.28 L101.10,726.79 L105.33,726.30 L109.56,725.80 L113.79,725.28 L118.02,724.75 L122.25,724.21 L126.48,723.66 L130.71,723.10 L134.93,722.52 L139.16,721.93 L143.39,721.32 L147.62,720.70 L151.85,720.06 L156.08,719.42 L160.31,718.75 L164.54,718.07 L168.77,717.38 L173.00,716.67 L177.22,715.94 L181.45,715.20 L185.68,714.44 L189.91,713.67 L194.14,712.88 L198.37,712.07 L202.60,711.24 L206.83,710.40 L211.06,709.54 L215.29,708.66 L219.51,707.77 L223.74,706.85 L227.97,705.92 L232.20,704.97 L236.43,704.00 L240.66,703.02 L244.89,702.01 L249.12,700.99 L253.35,699.94 L257.57,698.88 L261.80,697.80 L266.03,696.70 L270.26,695.58 L274.49,694.44 L278.72,693.28 L282.95,692.10 L287.18,690.90 L291.41,689.68 L295.64,688.44 L299.86,687.18 L304.09,685.91 L308.32,684.61 L312.55,683.29 L316.78,681.95 L321.01,680.60 L325.24,679.22 L329.47,677.82 L333.70,676.40 L337.93,674.97 L342.15,673.51 L346.38,672.03 L350.61,670.54 L354.84,669.02 L359.07,667.49 L363.30,665.93 L367.53,664.35 L371.76,662.76 L375.99,661.14 L380.22,659.51 L384.44,657.86 L388.67,656.19 L392.90,654.49 L397.13,652.78 L401.36,651.05 L405.59,649.31 L409.82,647.54 L414.05,645.75 L418.28,643.95 L422.51,642.13 L426.73,640.29 L430.96,638.43 L435.19,636.55 L439.42,634.66 L443.65,632.75 L447.88,630.82 L452.11,628.88 L456.34,626.92 L460.57,624.94 L464.79,622.94 L469.02,620.93 L473.25,618.91 L477.48,616.86 L481.71,614.80 L485.94,612.73 L490.17,610.64 L494.40,608.54 L498.63,606.42 L502.86,604.29 L507.08,602.14 L511.31,599.99 L515.54,597.81 L519.77,595.63 L524.00,593.43 L528.23,591.22 L532.46,588.99 L536.69,586.76 L540.92,584.51 L545.15,582.26 L549.37,579.99 L553.60,577.71 L557.83,575.42 L562.06,573.12 L566.29,570.81 L570.52,568.50 L574.75,566.17 L578.98,563.84 L583.21,561.50 L587.44,559.15 L591.66,556.79 L595.89,554.43 L600.12,552.06 L604.35,549.68 L608.58,547.30 L612.81,544.92 L617.04,542.53" stroke="#0b4683" stroke-width="1.6" fill="none" stroke-linejoin="round" stroke-linecap="round"/><path d="M71.50,715.07 L75.72,714.08 L79.94,713.10 L84.16,712.12 L88.38,711.15 L92.61,710.18 L96.83,709.21 L101.05,708.25 L105.27,707.29 L109.49,706.33 L113.71,705.38 L117.93,704.43 L122.15,703.48 L126.38,702.54 L130.60,701.61 L134.82,700.67 L139.04,699.74 L143.26,698.82 L147.48,697.90 L151.70,696.98 L155.92,696.07 L160.14,695.16 L164.37,694.26 L168.59,693.36 L172.81,692.47 L177.03,691.58 L181.25,690.70 L185.47,689.82 L189.69,688.94 L193.91,688.07 L198.13,687.20 L202.36,686.34 L206.58,685.49 L210.80,684.64 L215.02,683.79 L219.24,682.95 L223.46,682.12 L227.68,681.28 L231.90,680.46 L236.13,679.64 L240.35,678.83 L244.57,678.02 L248.79,677.21 L253.01,676.41 L257.23,675.62 L261.45,674.83 L265.67,674.05 L269.89,673.28 L274.12,672.51 L278.34,671.74 L282.56,670.98 L286.78,670.23 L291.00,669.48 L295.22,668.74 L299.44,668.01 L303.66,667.28 L307.89,666.55 L312.11,665.83 L316.33,665.12 L320.55,664.42 L324.77,663.72 L328.99,663.02 L333.21,662.34 L337.43,661.66 L341.65,660.98 L345.88,660.31 L350.10,659.65 L354.32,658.99 L358.54,658.34 L362.76,657.70 L366.98,657.06 L371.20,656.43 L375.42,655.81 L379.64,655.19 L383.87,654.58 L388.09,653.98 L392.31,653.38 L396.53,652.79 L400.75,652.20 L404.97,651.62 L409.19,651.05 L413.41,650.49 L417.64,649.93 L421.86,649.38 L426.08,648.83 L430.30,648.30 L434.52,647.77 L438.74,647.24 L442.96,646.72 L447.18,646.21 L451.40,645.71 L455.63,645.21 L459.85,644.72 L464.07,644.24 L468.29,643.76 L472.51,643.30 L476.73,642.83 L480.95,642.38 L485.17,641.93 L489.40,641.49 L493.62,641.06 L497.84,640.63 L502.06,640.21 L506.28,639.80 L510.50,639.39 L514.72,638.99 L518.94,638.60 L523.16,638.21 L527.39,637.84 L531.61,637.47 L535.83,637.10 L540.05,636.75 L544.27,636.40 L548.49,636.06 L552.71,635.72 L556.93,635.39 L561.15,635.07 L565.38,634.76 L569.60,634.45 L573.82,634.15 L578.04,633.86 L582.26,633.58 L586.48,633.30 L590.70,633.03 L594.92,632.77 L599.15,632.51 L603.37,632.26 L607.59,632.02 L611.81,631.79 L616.03,631.56 L620.25,631.34 L624.47,631.13 L628.69,630.92 L632.91,630.72 L637.14,630.53 L641.36,630.35 L645.58,630.17 L649.80,630.00 L654.02,629.84 L658.24,629.68 L662.46,629.53 L666.68,629.39 L670.91,629.26 L675.13,629.13 L679.35,629.01 L683.57,628.90 L687.79,628.79 L692.01,628.69 L696.23,628.60 L700.45,628.51 L704.67,628.44 L708.90,628.37 L713.12,628.30 L717.34,628.24 L721.56,628.19 L725.78,628.15 L730.00,628.11 L734.22,628.09 L738.44,628.06 L742.66,628.05 L746.89,628.04" stroke="#0b4683" stroke-width="1.6" fill="none" stroke-linejoin="round" stroke-linecap="round"/><path d="M71.50,731.31 L75.73,730.82 L79.95,730.33 L84.18,729.84 L88.41,729.34 L92.64,728.85 L96.86,728.35 L101.09,727.85 L105.32,727.35 L109.55,726.84 L113.77,726.34 L118.00,725.82 L122.23,725.31 L126.46,724.79 L130.68,724.27 L134.91,723.74 L139.14,723.22 L143.37,722.68 L147.59,722.14 L151.82,721.60 L156.05,721.06 L160.28,720.50 L164.50,719.95 L168.73,719.39 L172.96,718.82 L177.19,718.25 L181.41,717.67 L185.64,717.09 L189.87,716.50 L194.09,715.91 L198.32,715.31 L202.55,714.70 L206.78,714.09 L211.00,713.47 L215.23,712.85 L219.46,712.22 L223.69,711.58 L227.91,710.93 L232.14,710.28 L236.37,709.62 L240.60,708.96 L244.82,708.28 L249.05,707.60 L253.28,706.91 L257.51,706.22 L261.73,705.51 L265.96,704.80 L270.19,704.08 L274.42,703.35 L278.64,702.62 L282.87,701.87 L287.10,701.12 L291.33,700.36 L295.55,699.59 L299.78,698.81 L304.01,698.02 L308.24,697.23 L312.46,696.42 L316.69,695.61 L320.92,694.78 L325.14,693.95 L329.37,693.11 L333.60,692.26 L337.83,691.40 L342.05,690.53 L346.28,689.65 L350.51,688.76 L354.74,687.86 L358.96,686.95 L363.19,686.04 L367.42,685.11 L371.65,684.17 L375.87,683.22 L380.10,682.26 L384.33,681.30 L388.56,680.32 L392.78,679.33 L397.01,678.33 L401.24,677.32 L405.47,676.30 L409.69,675.27 L413.92,674.23 L418.15,673.18 L422.38,672.12 L426.60,671.04 L430.83,669.96 L435.06,668.87 L439.28,667.76 L443.51,666.65 L447.74,665.52 L451.97,664.38 L456.19,663.23 L460.42,662.08 L464.65,660.91 L468.88,659.72 L473.10,658.53 L477.33,657.33 L481.56,656.12 L485.79,654.89 L490.01,653.65 L494.24,652.41 L498.47,651.15 L502.70,649.88 L506.92,648.60 L511.15,647.31 L515.38,646.01 L519.61,644.69 L523.83,643.37 L528.06,642.03 L532.29,640.68 L536.52,639.33 L540.74,637.96 L544.97,636.58 L549.20,635.19 L553.42,633.78 L557.65,632.37 L561.88,630.94 L566.11,629.51 L570.33,628.06 L574.56,626.60 L578.79,625.14 L583.02,623.66 L587.24,622.17 L591.47,620.66 L595.70,619.15 L599.93,617.63 L604.15,616.09 L608.38,614.55 L612.61,612.99 L616.84,611.43 L621.06,609.85 L625.29,608.26 L629.52,606.66 L633.75,605.06 L637.97,603.44 L642.20,601.81 L646.43,600.17 L650.66,598.52 L654.88,596.86 L659.11,595.18 L663.34,593.50 L667.56,591.81 L671.79,590.11 L676.02,588.40 L680.25,586.68 L684.47,584.94 L688.70,583.20 L692.93,581.45 L697.16,579.69 L701.38,577.92 L705.61,576.14 L709.84,574.35 L714.07,572.55 L718.29,570.74 L722.52,568.92 L726.75,567.10 L730.98,565.26 L735.20,563.42 L739.43,561.56 L743.66,559.70 L747.89,557.83 L752.11,555.95 L756.34,554.06 L760.57,552.16 L764.80,550.26 L769.02,548.34 L773.25,546.42 L777.48,544.49 L781.71,542.55" stroke="#0b4683" stroke-width="1.6" fill="none" stroke-linejoin="round" stroke-linecap="round"/><path d="M71.50,749.08 L75.82,748.94 L80.15,748.79 L84.47,748.64 L88.80,748.49 L93.12,748.34 L97.45,748.19 L101.77,748.04 L106.10,747.88 L110.42,747.73 L114.75,747.58 L119.07,747.42 L123.40,747.27 L127.72,747.12 L132.05,746.96 L136.37,746.81 L140.70,746.66 L145.02,746.51 L149.35,746.36 L153.67,746.21 L158.00,746.07 L162.32,745.92 L166.65,745.78 L170.97,745.64 L175.30,745.50 L179.62,745.37 L183.95,745.24 L188.27,745.11 L192.60,744.98 L196.92,744.86 L201.25,744.74 L205.57,744.62 L209.90,744.51 L214.22,744.40 L218.55,744.30 L222.87,744.20 L227.20,744.11 L231.52,744.02 L235.85,743.94 L240.17,743.86 L244.50,743.78 L248.82,743.72 L253.15,743.65 L257.47,743.60 L261.80,743.55 L266.12,743.50 L270.45,743.47 L274.77,743.44 L279.10,743.41 L283.42,743.40 L287.75,743.39 L292.07,743.39 L296.40,743.39 L300.72,743.41 L305.05,743.43 L309.37,743.46 L313.70,743.50 L318.02,743.54 L322.35,743.60 L326.67,743.67" stroke="#0b4683" stroke-width="1.6" fill="none" stroke-linejoin="round" stroke-linecap="round"/><path d="M372.43,542.55 H501.5" stroke="#0b4683" stroke-width="1.6" fill="none" stroke-linejoin="round" stroke-linecap="round"/><path d="M501.5,542.55 H829.6" stroke="#0b4683" stroke-width="2.8" fill="none" stroke-linejoin="round" stroke-linecap="round"/><circle cx="501.5" cy="542.55" r="4" fill="#ff1010"/>
</svg></body></html>
